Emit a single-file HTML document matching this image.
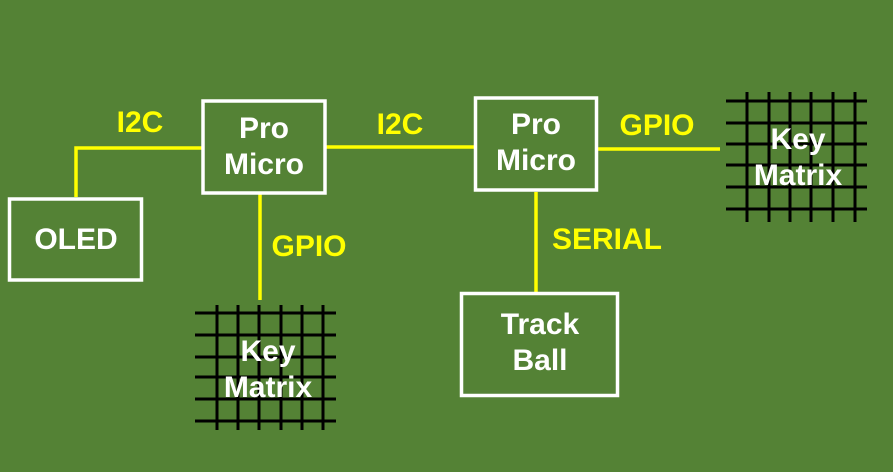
<!DOCTYPE html>
<html><head><meta charset="utf-8"><style>
html,body{margin:0;padding:0;background:#548235;}
svg{display:block}
text{font-family:"Liberation Sans",sans-serif;font-weight:bold;font-size:30px;text-anchor:middle}
.w{fill:#fff}.y{fill:#ffff00}
</style></head><body>
<svg width="893" height="472" viewBox="0 0 893 472">
<rect width="893" height="472" fill="#548235"/>
<g stroke="#ffff00" stroke-width="3.5" fill="none">
<polyline points="76,197 76,148 202,148"/>
<line x1="326" y1="147" x2="475" y2="147"/>
<line x1="598" y1="149" x2="720" y2="149"/>
<line x1="260" y1="194" x2="260" y2="300"/>
<line x1="536" y1="192" x2="536" y2="292"/>
</g>
<g stroke="#000" stroke-width="3">
<line x1="195" y1="313" x2="336" y2="313"/><line x1="195" y1="335" x2="336" y2="335"/><line x1="195" y1="357" x2="336" y2="357"/><line x1="195" y1="377" x2="336" y2="377"/><line x1="195" y1="399" x2="336" y2="399"/><line x1="195" y1="421" x2="336" y2="421"/>
<line x1="217" y1="305" x2="217" y2="430"/><line x1="238" y1="305" x2="238" y2="430"/><line x1="259" y1="305" x2="259" y2="430"/><line x1="281" y1="305" x2="281" y2="430"/><line x1="302" y1="305" x2="302" y2="430"/><line x1="323" y1="305" x2="323" y2="430"/>
<line x1="726" y1="101" x2="867" y2="101"/><line x1="726" y1="123" x2="867" y2="123"/><line x1="726" y1="144" x2="867" y2="144"/><line x1="726" y1="165" x2="867" y2="165"/><line x1="726" y1="187" x2="867" y2="187"/><line x1="726" y1="209" x2="867" y2="209"/>
<line x1="747" y1="92" x2="747" y2="222"/><line x1="769" y1="92" x2="769" y2="222"/><line x1="790" y1="92" x2="790" y2="222"/><line x1="811" y1="92" x2="811" y2="222"/><line x1="833" y1="92" x2="833" y2="222"/><line x1="855" y1="92" x2="855" y2="222"/>
</g>
<g stroke="#fff" stroke-width="3.5" fill="#548235">
<rect x="9.5" y="199" width="132" height="81"/>
<rect x="203" y="101" width="122" height="92"/>
<rect x="475.5" y="98" width="121" height="92"/>
<rect x="461.5" y="293.5" width="156" height="102"/>
</g>
<text class="w" x="76" y="249">OLED</text>
<text class="w" x="264" y="138">Pro</text><text class="w" x="264" y="174">Micro</text>
<text class="w" x="536" y="134">Pro</text><text class="w" x="536" y="170">Micro</text>
<text class="w" x="540" y="334">Track</text><text class="w" x="540" y="370">Ball</text>
<text class="w" x="268" y="361">Key</text><text class="w" x="268" y="397">Matrix</text>
<text class="w" x="798" y="149">Key</text><text class="w" x="798" y="185">Matrix</text>
<text class="y" x="140" y="132">I2C</text>
<text class="y" x="400" y="134">I2C</text>
<text class="y" x="657" y="135">GPIO</text>
<text class="y" x="309" y="256">GPIO</text>
<text class="y" x="607" y="249">SERIAL</text>
</svg>
</body></html>
